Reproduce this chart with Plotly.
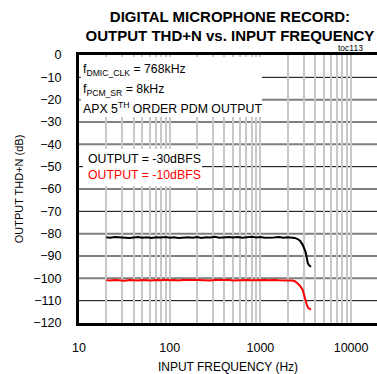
import plotly.graph_objects as go

# Input frequency sweep (Hz)
freq_hz = [20, 22, 25, 28, 32, 36, 40, 45, 50, 56,
           63, 71, 80, 90, 100, 112, 125, 140, 160, 180,
           200, 224, 250, 280, 315, 355, 400, 450, 500, 560,
           630, 710, 800, 900, 1000, 1120, 1250, 1400, 1600, 1800,
           2000, 2240, 2400, 2580, 2750, 2930, 3050, 3140, 3240, 3340,
           3480, 3630]

# THD+N (dB) at OUTPUT = -30dBFS
thdn_m30 = [-81.6, -81.8, -81.5, -81.7, -81.6, -81.9, -81.7, -81.5, -81.8, -81.6,
            -81.9, -81.6, -81.7, -81.5, -81.8, -81.6, -81.9, -81.7, -81.6, -81.8,
            -81.5, -81.9, -81.6, -81.7, -81.4, -81.8, -81.6, -81.5, -81.7, -81.5,
            -81.8, -81.6, -81.4, -81.7, -81.5, -81.8, -81.6, -81.7, -81.5, -81.8,
            -81.6, -81.7, -81.9, -82.4, -83.3, -85.0, -86.5, -88.0, -90.5, -93.3,
            -94.4, -94.8]

# THD+N (dB) at OUTPUT = -10dBFS
thdn_m10 = [-100.8, -101.0, -100.7, -100.9, -101.1, -100.8, -100.9, -101.0, -100.7, -100.9,
            -101.0, -100.8, -100.9, -100.6, -100.9, -100.8, -101.0, -100.7, -100.9, -100.8,
            -100.7, -100.9, -100.8, -101.0, -100.8, -100.7, -100.9, -100.8, -101.0, -100.8,
            -100.9, -100.7, -100.9, -100.8, -101.0, -100.8, -100.9, -100.7, -100.9, -100.8,
            -101.0, -101.0, -101.3, -102.3, -103.5, -105.2, -107.3, -109.7, -111.6, -113.0,
            -113.7, -113.9]

y_ticks = [0, -10, -20, -30, -40, -50, -60, -70, -80, -90, -100, -110, -120]
x_ticks = [10, 100, 1000, 10000]
x_tick_labels = ["10", "100", "1000", "10000"]
x_minor = [20, 30, 40, 50, 60, 70, 80, 90,
           200, 300, 400, 500, 600, 700, 800, 900,
           2000, 3000, 4000, 5000, 6000, 7000, 8000, 9000]

FONT = "Liberation Sans, Arial, Helvetica, sans-serif"
TXT = 12.3

fig = go.Figure()
fig.add_trace(go.Scatter(x=freq_hz, y=thdn_m30, mode="lines",
                         line=dict(color="black", width=2), showlegend=False))
fig.add_trace(go.Scatter(x=freq_hz, y=thdn_m10, mode="lines",
                         line=dict(color="#ff0000", width=2), showlegend=False))

shapes = []
# horizontal grid: alternating black / grey lines
for v in y_ticks[1:-1]:
    odd = (v // 10) % 2 != 0
    shapes.append(dict(type="line", xref="paper", x0=0, x1=1, yref="y", y0=v, y1=v,
                       line=dict(color="black" if odd else "#7f7f7f", width=1 if odd else 2),
                       layer="between"))
# white backgrounds behind the text blocks
shapes.append(dict(type="rect", xref="paper", x0=0.006, x1=0.614, yref="y", y0=-0.9, y1=-27.8,
                   fillcolor="white", line=dict(width=0), layer="above"))
shapes.append(dict(type="rect", xref="paper", x0=0.013, x1=0.413, yref="y", y0=-42.1, y1=-58.7,
                   fillcolor="white", line=dict(width=0), layer="above"))

annos = []
def note(text, x, y, color="black"):
    annos.append(dict(text=text, xref="paper", x=x, xanchor="left", yref="y", y=y,
                      yanchor="middle", showarrow=False,
                      font=dict(family=FONT, size=TXT, color=color)))

note("f<sub>DMIC_CLK</sub> = 768kHz", 0.008, -6.5)
note("f<sub>PCM_SR</sub> = 8kHz", 0.008, -15.6)
note("APX 5<sup>TH</sup> ORDER PDM OUTPUT", 0.008, -23.7)
note("OUTPUT = -30dBFS", 0.025, -46.6)
note("OUTPUT = -10dBFS", 0.025, -53.7, "#ff0000")
annos.append(dict(text="toc113", xref="paper", x=0.912, xanchor="center", yref="paper", y=1.025,
                  yanchor="middle", showarrow=False, font=dict(family=FONT, size=8.5, color="black")))

fig.update_layout(
    width=377, height=374,
    margin=dict(l=79, r=0, t=55, b=51),
    paper_bgcolor="white", plot_bgcolor="white",
    font=dict(family=FONT, size=12.5, color="black"),
    title=dict(text="<b>DIGITAL MICROPHONE RECORD:<br>OUTPUT THD+N vs. INPUT FREQUENCY</b>",
               x=0.61, xanchor="center", y=0.942, yanchor="middle",
               font=dict(family=FONT, size=15, color="black")),
    shapes=shapes,
    annotations=annos,
    xaxis=dict(type="log", range=[1, 4.286], tickvals=x_ticks, ticktext=x_tick_labels,
               showgrid=True, gridcolor="#c8c8c8", gridwidth=1.5,
               minor=dict(tickmode="array", tickvals=x_minor, showgrid=True,
                          gridcolor="#c8c8c8", gridwidth=1.5, ticks=""),
               showline=True, linecolor="black", linewidth=3, mirror=True,
               ticks="", ticklabelstandoff=11, zeroline=False,
               tickfont=dict(family=FONT, size=12.5),
               title=dict(text="INPUT FREQUENCY (Hz)", standoff=10,
                          font=dict(family=FONT, size=12))),
    yaxis=dict(range=[-120, 0], tickvals=y_ticks, showgrid=False,
               showline=True, linecolor="black", linewidth=3, mirror=False,
               ticks="", ticklabelstandoff=12, zeroline=False,
               tickfont=dict(family=FONT, size=12.5),
               title=dict(text="OUTPUT THD+N (dB)", standoff=8,
                          font=dict(family=FONT, size=11))),
)

fig.write_html("out.html")
